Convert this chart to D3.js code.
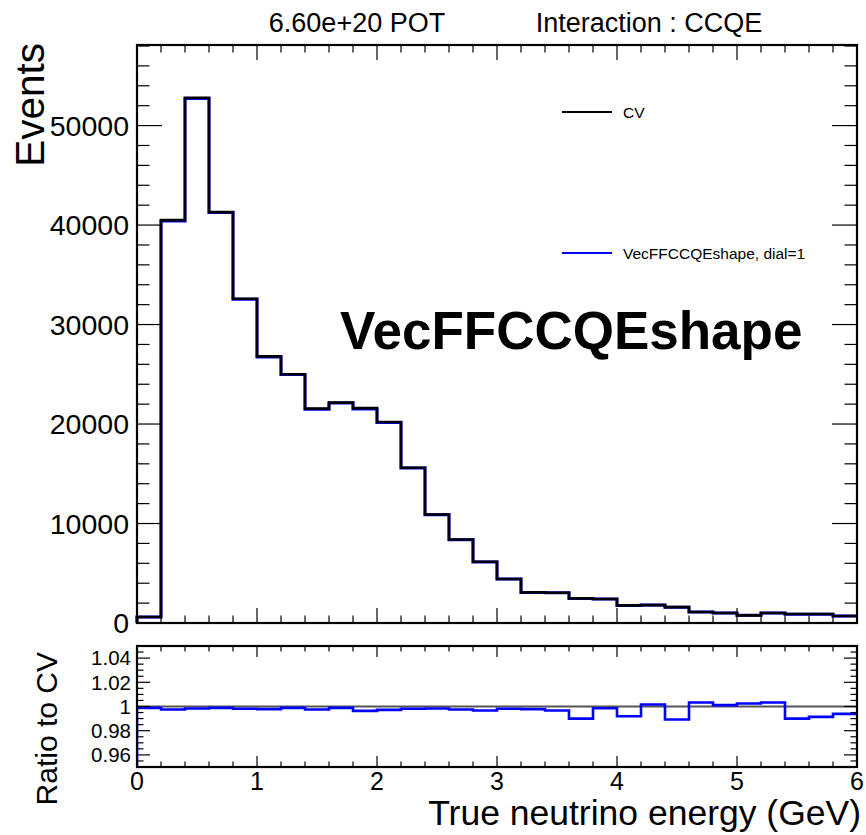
<!DOCTYPE html>
<html>
<head>
<meta charset="utf-8">
<script src="https://cdn.jsdelivr.net/npm/d3@7"></script>
<style>
  html, body { margin: 0; padding: 0; background: #fff; }
  svg { display: block; font-family: "Liberation Sans", Arial, Helvetica, sans-serif; }
</style>
</head>
<body>
<svg id="chart" width="866" height="835"></svg>
<script>
// ---- data ----
const binEdges = [0,0.2,0.4,0.6,0.8,1.0,1.2,1.4,1.6,1.8,2.0,2.2,2.4,2.6,2.8,3.0,3.2,3.4,3.6,3.8,4.0,4.2,4.4,4.6,4.8,5.0,5.2,5.4,5.6,5.8,6.0];
const cvVals = [600, 40500, 52800, 41300, 32600, 26800, 25000, 21550, 22150, 21600, 20200, 15600, 10900, 8400, 6150, 4420, 3080, 3040, 2480, 2410, 1770, 1800, 1600, 1100, 1000, 770, 1000, 900, 900, 700];
const dialVals = [599, 40399, 52710, 41255, 32538, 26741, 24973, 21496, 22126, 21522, 20143, 15570, 10881, 8379, 6130, 4412, 3073, 3030, 2455, 2407, 1756, 1803, 1583, 1104, 1001, 772, 1003, 891, 892, 696];
const ratioVals = [0.9989, 0.9975, 0.9983, 0.9989, 0.9981, 0.9978, 0.9989, 0.9975, 0.9989, 0.9964, 0.9972, 0.9981, 0.9983, 0.9975, 0.9967, 0.9981, 0.9978, 0.9967, 0.9900, 0.9986, 0.9919, 1.0017, 0.9892, 1.0033, 1.0011, 1.0025, 1.0033, 0.9900, 0.9914, 0.9939];
const xTicks = [0, 1, 2, 3, 4, 5, 6];
const yTicks = [0, 10000, 20000, 30000, 40000, 50000];
const ratioTicks = [0.96, 0.98, 1, 1.02, 1.04];
const legendLabels = ["CV", "VecFFCCQEshape, dial=1"];
const titleLeft = "6.60e+20 POT";
const titleRight = "Interaction : CCQE";
const bigLabel = "VecFFCCQEshape";

// ---- layout ----
const svg = d3.select("#chart");
const L = 137, R = 857;
const up = {top: 45, bottom: 623};
const lo = {top: 646, bottom: 767};

const x = d3.scaleLinear().domain([0, 6]).range([L, R]);
const y = d3.scaleLinear().domain([0, 58100]).range([up.bottom, up.top]);
const yr = d3.scaleLinear().domain([0.95, 1.05]).range([lo.bottom, lo.top]);

svg.append("defs").append("clipPath").attr("id", "clipLo")
  .append("rect").attr("x", L).attr("y", lo.top).attr("width", R - L).attr("height", lo.bottom - lo.top);

function stepPts(vals, ys, base) {
  const pts = [[x(binEdges[0]), base]];
  vals.forEach((v, i) => {
    pts.push([x(binEdges[i]), ys(v)]);
    pts.push([x(binEdges[i + 1]), ys(v)]);
  });
  return pts;
}
const line = d3.line();

// ---- upper panel ----
svg.append("path").attr("d", line(stepPts(dialVals, y, y(0))))
  .attr("fill", "none").attr("stroke", "#0000ff").attr("stroke-width", 3);
svg.append("path").attr("d", line(stepPts(cvVals, y, y(0))))
  .attr("fill", "none").attr("stroke", "#000").attr("stroke-width", 2.6);

// ticks upper
const gU = svg.append("g").attr("stroke", "#000").attr("stroke-width", 1.2);
d3.range(0, 6.0001, 0.2).forEach(v => {
  const major = Math.abs(v - Math.round(v)) < 1e-6;
  const len = major ? 15 : 7.5;
  gU.append("line").attr("x1", x(v)).attr("x2", x(v)).attr("y1", up.bottom).attr("y2", up.bottom - len);
  gU.append("line").attr("x1", x(v)).attr("x2", x(v)).attr("y1", up.top).attr("y2", up.top + len);
});
d3.range(0, 58001, 2000).forEach(v => {
  const major = v % 10000 === 0;
  const len = major ? 25 : 12.5;
  gU.append("line").attr("x1", L).attr("x2", L + len).attr("y1", y(v)).attr("y2", y(v));
  gU.append("line").attr("x1", R).attr("x2", R - len).attr("y1", y(v)).attr("y2", y(v));
});
svg.append("rect").attr("x", L).attr("y", up.top).attr("width", R - L).attr("height", up.bottom - up.top)
  .attr("fill", "none").attr("stroke", "#000").attr("stroke-width", 2.2);

svg.append("g").selectAll("text").data(yTicks).join("text")
  .attr("x", L - 8).attr("y", d => y(d)).attr("dy", "0.36em")
  .attr("text-anchor", "end").attr("font-size", 28.5).text(d => d);

svg.append("text").attr("transform", `translate(44,43) rotate(-90)`)
  .attr("text-anchor", "end").attr("font-size", 40.5).text("Events");

svg.append("text").attr("x", 357).attr("y", 32).attr("text-anchor", "middle")
  .attr("font-size", 27).text(titleLeft);
svg.append("text").attr("x", 649).attr("y", 32).attr("text-anchor", "middle")
  .attr("font-size", 27).text(titleRight);

svg.append("text").attr("x", 340).attr("y", 349).attr("font-size", 53).attr("font-weight", "bold")
  .text(bigLabel);

// legend
const legColors = ["#000", "#0000ff"];
const legY = [112, 253];
legendLabels.forEach((t, i) => {
  svg.append("line").attr("x1", 562).attr("x2", 612).attr("y1", legY[i]).attr("y2", legY[i])
    .attr("stroke", legColors[i]).attr("stroke-width", 2);
  svg.append("text").attr("x", 623).attr("y", legY[i]).attr("dy", "0.36em")
    .attr("font-size", 15.5).text(t);
});

// ---- lower panel ----
svg.append("line").attr("x1", L).attr("x2", R).attr("y1", yr(1)).attr("y2", yr(1))
  .attr("stroke", "#555").attr("stroke-width", 2);
svg.append("path").attr("d", line(stepPts(ratioVals, yr, yr(0.95))))
  .attr("clip-path", "url(#clipLo)")
  .attr("fill", "none").attr("stroke", "#0000ff").attr("stroke-width", 2.6);

const gL = svg.append("g").attr("stroke", "#000").attr("stroke-width", 1.2);
d3.range(0, 6.0001, 0.2).forEach(v => {
  const major = Math.abs(v - Math.round(v)) < 1e-6;
  const len = major ? 11 : 5.5;
  gL.append("line").attr("x1", x(v)).attr("x2", x(v)).attr("y1", lo.bottom).attr("y2", lo.bottom - len);
  gL.append("line").attr("x1", x(v)).attr("x2", x(v)).attr("y1", lo.top).attr("y2", lo.top + len);
});
d3.range(0.95, 1.0501, 0.005).forEach(v => {
  const major = Math.abs(v * 50 - Math.round(v * 50)) < 1e-6;
  const len = major ? 13 : 6.5;
  gL.append("line").attr("x1", L).attr("x2", L + len).attr("y1", yr(v)).attr("y2", yr(v));
  gL.append("line").attr("x1", R).attr("x2", R - len).attr("y1", yr(v)).attr("y2", yr(v));
});
svg.append("rect").attr("x", L).attr("y", lo.top).attr("width", R - L).attr("height", lo.bottom - lo.top)
  .attr("fill", "none").attr("stroke", "#000").attr("stroke-width", 2.2);

svg.append("g").selectAll("text").data(ratioTicks).join("text")
  .attr("x", L - 6).attr("y", d => yr(d)).attr("dy", "0.36em")
  .attr("text-anchor", "end").attr("font-size", 20.5)
  .text(d => d === 1 ? "1" : d.toFixed(2));

svg.append("g").selectAll("text").data(xTicks).join("text")
  .attr("x", d => x(d)).attr("y", 790).attr("text-anchor", "middle")
  .attr("font-size", 25).text(d => d);

svg.append("text").attr("transform", `translate(57,652) rotate(-90)`)
  .attr("text-anchor", "end").attr("font-size", 30).text("Ratio to CV");

svg.append("text").attr("x", 861).attr("y", 825).attr("text-anchor", "end")
  .attr("font-size", 35.5).text("True neutrino energy (GeV)");
</script>
</body>
</html>
